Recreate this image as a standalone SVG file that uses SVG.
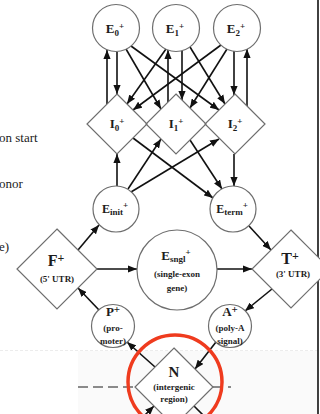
<svg xmlns="http://www.w3.org/2000/svg" width="320" height="414" viewBox="0 0 320 414">
  <defs>
    <marker id="ah" viewBox="0 0 10 8" markerWidth="9" markerHeight="7.4" refX="10" refY="4" orient="auto" markerUnits="userSpaceOnUse">
      <path d="M0,0 L10,4 L0,8 z" fill="#111"/>
    </marker>
    <style>
      .node { fill: #fff; stroke: #6e6e6e; stroke-width: 1.2; }
      .open { fill: none; }
      .lbl { font-family: "Liberation Serif", "Times New Roman", serif; font-weight: bold; fill: #1c1c1c; text-anchor: middle; }
      .side { font-family: "Liberation Serif", "Times New Roman", serif; font-size: 13px; fill: #1c1c1c; }
      .arr { stroke: #111; stroke-width: 1.6; fill: none; marker-end: url(#ah); }
      .ln { stroke: #111; stroke-width: 1.6; fill: none; }
      .sub { font-size: 9px; }
      .small { font-size: 9px; }
    </style>
  </defs>

  <rect x="0" y="0" width="320" height="414" fill="#fff"/>
  <rect x="78" y="351" width="240" height="63" fill="#fafafa"/>
  <line x1="0" y1="350.5" x2="318" y2="350.5" stroke="#ececec" stroke-width="1" stroke-dasharray="3 2"/>
  <line x1="318" y1="0" x2="318" y2="414" stroke="#111" stroke-width="1.6"/>

  <!-- clipped side legend text -->
  <text class="side" x="-1" y="142">on start</text>
  <text class="side" x="-1" y="188">onor</text>
  <text class="side" x="-1" y="251">e)</text>

  <!-- intergenic strand line -->
  <line x1="78" y1="387" x2="135" y2="387" stroke="#666" stroke-width="1.5" stroke-dasharray="10 5"/>
  <line x1="213" y1="387" x2="233" y2="387" stroke="#666" stroke-width="1.5" stroke-dasharray="9 6 3 20"/>

  <g id="connectors">
    <!-- exon / intron vertical pairs -->
    <line class="arr" x1="107" y1="104" x2="107" y2="50"/>
    <line class="arr" x1="117" y1="52" x2="117" y2="94"/>
    <line class="arr" x1="168" y1="102" x2="168" y2="50"/>
    <line class="arr" x1="182" y1="51" x2="182" y2="100"/>
    <line class="arr" x1="234" y1="51" x2="234" y2="95"/>
    <line class="arr" x1="247" y1="106" x2="247" y2="49"/>
    <!-- exon to intron crossings -->
    <line class="arr" x1="126" y1="49" x2="161" y2="109"/>
    <line class="arr" x1="131" y1="46" x2="219" y2="110"/>
    <line class="arr" x1="166" y1="49" x2="127" y2="104"/>
    <line class="arr" x1="221" y1="45" x2="133" y2="110"/>
    <line class="arr" x1="190" y1="47" x2="225" y2="104"/>
    <line class="arr" x1="227" y1="49" x2="190" y2="108"/>
    <!-- initial exon to introns -->
    <line class="arr" x1="117" y1="186" x2="117" y2="154"/>
    <line class="arr" x1="128" y1="189" x2="161" y2="139"/>
    <line class="arr" x1="131" y1="192" x2="219" y2="139"/>
    <!-- introns to terminal exon -->
    <line class="arr" x1="133" y1="138" x2="213" y2="198"/>
    <line class="arr" x1="190" y1="140" x2="222" y2="189"/>
    <line class="arr" x1="234" y1="154" x2="234" y2="186"/>
    <!-- outer ring -->
    <line class="arr" x1="78" y1="250" x2="99" y2="225"/>
    <line class="arr" x1="97" y1="269" x2="137" y2="269"/>
    <line class="arr" x1="217" y1="269" x2="252" y2="269"/>
    <line class="arr" x1="249" y1="226" x2="271" y2="250"/>
    <line class="arr" x1="272" y1="289" x2="245" y2="311"/>
    <line class="arr" x1="99" y1="310" x2="78" y2="288"/>
    <line class="arr" x1="155" y1="367" x2="127" y2="342"/>
    <line class="arr" x1="216" y1="342" x2="195" y2="369"/>
    <line class="arr" x1="138" y1="422" x2="154" y2="406"/>
    <line class="ln" x1="194" y1="406" x2="210" y2="422"/>
  </g>

  <g id="E0">
    <circle class="node" cx="116" cy="28" r="23.5"/>
    <text class="lbl" x="115" y="33" font-size="13">E<tspan class="sub" dy="3">0</tspan><tspan class="sub" dy="-7">+</tspan></text>
  </g>
  <g id="E1">
    <circle class="node" cx="176" cy="28" r="23.5"/>
    <text class="lbl" x="175" y="33" font-size="13">E<tspan class="sub" dy="3">1</tspan><tspan class="sub" dy="-7">+</tspan></text>
  </g>
  <g id="E2">
    <circle class="node" cx="237" cy="28" r="23.5"/>
    <text class="lbl" x="236" y="33" font-size="13">E<tspan class="sub" dy="3">2</tspan><tspan class="sub" dy="-7">+</tspan></text>
  </g>

  <g id="I0">
    <path class="node open" d="M117,94 L147,124 L117,154 L87,124 Z"/>
    <text class="lbl" x="117" y="128" font-size="13">I<tspan class="sub" dy="3">0</tspan><tspan class="sub" dy="-7">+</tspan></text>
  </g>
  <g id="I1">
    <path class="node open" d="M176,94 L206,124 L176,154 L146,124 Z"/>
    <text class="lbl" x="176" y="128" font-size="13">I<tspan class="sub" dy="3">1</tspan><tspan class="sub" dy="-7">+</tspan></text>
  </g>
  <g id="I2">
    <path class="node open" d="M235,94 L265,124 L235,154 L205,124 Z"/>
    <text class="lbl" x="235" y="128" font-size="13">I<tspan class="sub" dy="3">2</tspan><tspan class="sub" dy="-7">+</tspan></text>
  </g>

  <g id="Einit">
    <circle class="node" cx="116" cy="209" r="23"/>
    <text class="lbl" x="115" y="213" font-size="12">E<tspan class="sub" dy="2">init</tspan><tspan class="sub" dy="-7">+</tspan></text>
  </g>
  <g id="Eterm">
    <circle class="node" cx="233" cy="209" r="23"/>
    <text class="lbl" x="232" y="213" font-size="12">E<tspan class="sub" dy="2">term</tspan><tspan class="sub" dy="-7">+</tspan></text>
  </g>

  <g id="F">
    <path class="node" d="M57,229 L97,269 L57,309 L17,269 Z"/>
    <text class="lbl" x="56" y="266" font-size="16">F<tspan font-size="12" dy="-4">+</tspan></text>
    <text class="lbl small" x="57" y="282">(5' UTR)</text>
  </g>

  <g id="Esngl">
    <circle class="node" cx="177" cy="270" r="40"/>
    <text class="lbl" x="176" y="260" font-size="13">E<tspan class="small" dy="2">sngl</tspan><tspan class="small" dy="-7">+</tspan></text>
    <text class="lbl small" x="177" y="277">(single-exon</text>
    <text class="lbl small" x="177" y="291">gene)</text>
  </g>

  <g id="T">
    <path class="node" d="M291,230 L330,269 L291,308 L252,269 Z"/>
    <text class="lbl" x="290" y="264" font-size="16">T<tspan font-size="12" dy="-4">+</tspan></text>
    <text class="lbl small" x="293" y="277">(3' UTR)</text>
  </g>

  <g id="P">
    <circle class="node" cx="113" cy="326" r="21.5"/>
    <text class="lbl" x="113" y="316" font-size="13">P<tspan font-size="11" dy="-3">+</tspan></text>
    <text class="lbl small" x="113" y="331">(pro-</text>
    <text class="lbl small" x="113" y="344">moter)</text>
  </g>

  <g id="A">
    <circle class="node" cx="230" cy="326" r="21.5"/>
    <text class="lbl" x="230" y="316" font-size="13">A<tspan font-size="11" dy="-3">+</tspan></text>
    <text class="lbl small" x="230" y="331">(poly-A</text>
    <text class="lbl small" x="230" y="344">signal)</text>
  </g>

  <g id="N">
    <path class="node" d="M174,348 L213,387 L174,426 L135,387 Z"/>
    <text class="lbl" x="174" y="377" font-size="15">N</text>
    <text class="lbl small" x="174" y="390">(intergenic</text>
    <text class="lbl small" x="174" y="402">region)</text>
  </g>

  <!-- highlight ring -->
  <circle cx="175" cy="382" r="47" fill="none" stroke="#ef3b1e" stroke-width="3.5"/>
</svg>
